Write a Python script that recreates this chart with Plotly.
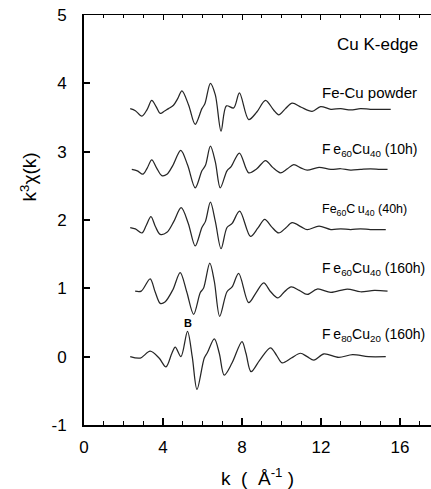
import plotly.graph_objects as go

# ---- data ----
k_powder = [2.34, 2.6, 2.93, 3.2, 3.43, 3.65, 3.86, 4.1, 4.28, 4.53, 4.75, 4.96, 5.3, 5.63, 5.97, 6.12, 6.4, 6.65, 6.94, 7.21, 7.58, 7.87, 8.34, 8.75, 9.19, 9.6, 9.86, 10.2, 10.54, 11.0, 11.55, 11.98, 12.5, 13.0, 13.5, 14.0, 14.5, 15.0, 15.53]
y_powder = [3.63, 3.60, 3.52, 3.62, 3.75, 3.66, 3.56, 3.60, 3.63, 3.68, 3.78, 3.89, 3.68, 3.40, 3.63, 3.70, 4.00, 3.83, 3.30, 3.67, 3.64, 3.86, 3.47, 3.58, 3.75, 3.61, 3.54, 3.63, 3.71, 3.65, 3.59, 3.66, 3.62, 3.63, 3.61, 3.63, 3.62, 3.62, 3.62]

k_10h = [2.42, 2.7, 2.98, 3.2, 3.43, 3.68, 3.94, 4.2, 4.5, 4.9, 5.25, 5.63, 5.97, 6.15, 6.40, 6.65, 6.9, 7.24, 7.45, 7.87, 8.34, 8.75, 9.19, 9.55, 9.95, 10.3, 10.62, 11.0, 11.3, 11.9, 12.5, 13.0, 13.5, 14.0, 14.5, 15.0, 15.37]
y_10h = [2.74, 2.72, 2.67, 2.76, 2.88, 2.76, 2.65, 2.67, 2.80, 3.02, 2.80, 2.47, 2.72, 2.80, 3.08, 2.85, 2.47, 2.72, 2.78, 2.98, 2.69, 2.75, 2.87, 2.77, 2.69, 2.75, 2.81, 2.76, 2.73, 2.77, 2.74, 2.75, 2.73, 2.74, 2.75, 2.74, 2.74]

k_40h = [2.34, 2.6, 2.93, 3.15, 3.39, 3.62, 3.86, 4.2, 4.55, 4.92, 5.28, 5.63, 5.97, 6.15, 6.40, 6.65, 6.94, 7.24, 7.5, 7.88, 8.43, 8.8, 9.15, 9.5, 9.86, 10.2, 10.54, 11.0, 11.3, 11.9, 12.5, 13.0, 13.5, 14.0, 14.5, 15.0, 15.28]
y_40h = [1.89, 1.87, 1.81, 1.92, 2.05, 1.90, 1.79, 1.82, 1.98, 2.18, 1.95, 1.62, 1.89, 1.98, 2.26, 1.98, 1.58, 1.89, 1.95, 2.13, 1.76, 1.88, 2.01, 1.90, 1.81, 1.88, 1.96, 1.90, 1.86, 1.91, 1.86, 1.87, 1.86, 1.87, 1.86, 1.86, 1.86]

k_160h = [2.59, 2.9, 3.35, 3.6, 3.86, 4.1, 4.5, 4.87, 5.2, 5.55, 5.89, 6.05, 6.37, 6.6, 6.87, 7.24, 7.5, 7.83, 8.34, 8.7, 9.1, 9.45, 9.81, 10.15, 10.49, 10.9, 11.3, 11.81, 12.5, 13.33, 14.0, 14.7, 15.37]
y_160h = [0.96, 0.96, 1.14, 0.95, 0.78, 0.80, 0.98, 1.23, 0.95, 0.62, 0.94, 1.00, 1.37, 1.10, 0.59, 0.95, 1.02, 1.22, 0.79, 0.93, 1.08, 0.95, 0.86, 0.95, 1.02, 0.97, 0.91, 0.99, 0.94, 0.99, 0.95, 0.97, 0.96]

k_80_20 = [2.34, 2.85, 3.35, 3.8, 4.15, 4.45, 4.62, 4.91, 5.24, 5.48, 5.72, 6.09, 6.25, 6.6, 6.85, 7.1, 7.5, 8.0, 8.2, 8.46, 8.9, 9.44, 9.75, 10.03, 10.5, 10.96, 11.3, 11.64, 12.15, 12.9, 13.6, 14.4, 15.28]
y_80_20 = [0.0, -0.02, 0.08, -0.02, -0.15, 0.05, 0.14, 0.0, 0.37, 0.0, -0.48, -0.02, 0.06, 0.26, 0.05, -0.27, -0.09, 0.22, 0.05, -0.22, -0.05, 0.13, 0.02, -0.09, -0.02, 0.05, 0.0, -0.05, 0.04, -0.01, 0.03, 0.0, 0.0]

series = [(k_powder, y_powder), (k_10h, y_10h), (k_40h, y_40h), (k_160h, y_160h), (k_80_20, y_80_20)]

labels = ["Fe-Cu powder",
          "F\u2009e<sub>60</sub>Cu<sub>40</sub> (10h)",
          "Fe<sub>60</sub>C\u2009u<sub>40</sub> (40h)",
          "F\u2009e<sub>60</sub>Cu<sub>40</sub> (160h)",
          "F\u2009e<sub>80</sub>Cu<sub>20</sub> (160h)"]
label_y = [3.87, 3.03, 2.15, 1.28, 0.31]
label_size = [15, 14, 12.5, 14, 14]
label_k = 11.95

x_ticks = [0, 4, 8, 12, 16]
y_ticks = [-1, 0, 1, 2, 3, 4, 5]
y_ticktext = ["-1", "0", "1", "2", "3", "4", "5"]

FONT = "Arial, Liberation Sans, Helvetica, sans-serif"

fig = go.Figure()
for kk, yy in series:
    fig.add_trace(go.Scatter(x=kk, y=yy, mode="lines",
                             line=dict(color="#262626", width=1.25, shape="spline", smoothing=0.9),
                             showlegend=False, hoverinfo="skip"))
# dummy trace for top axis
fig.add_trace(go.Scatter(x=[0], y=[0], xaxis="x2", mode="markers",
                         marker=dict(opacity=0), showlegend=False, hoverinfo="skip"))

for txt, yv, sz in zip(labels, label_y, label_size):
    fig.add_annotation(x=label_k, y=yv, text=txt, showarrow=False, xanchor="left", yanchor="middle",
                       font=dict(family=FONT, size=sz, color="black"))

fig.add_annotation(x=14.87, y=4.57, text="Cu K-edge", showarrow=False,
                   font=dict(family=FONT, size=17, color="black"))
fig.add_annotation(x=5.25, y=0.49, text="<b>B</b>", showarrow=False,
                   font=dict(family=FONT, size=11, color="black"))
fig.add_annotation(xref="paper", yref="paper", x=-0.16, y=0.605, text="k<sup>3</sup>χ(k)",
                   textangle=-90, showarrow=False, xanchor="center", yanchor="middle",
                   font=dict(family=FONT, size=19, color="black"))
fig.add_annotation(xref="paper", yref="paper", x=0.5, y=-0.128, yanchor="middle",
                   text="k  (  Å<sup>-1</sup> )", showarrow=False,
                   font=dict(family=FONT, size=19, color="black"))

fig.update_layout(
    width=431, height=489,
    margin=dict(l=84, r=0, t=15, b=64),
    paper_bgcolor="white", plot_bgcolor="white",
    font=dict(family=FONT, color="black"),
    xaxis=dict(range=[0, 17.57], tickvals=x_ticks, ticks="inside", ticklen=7, tickwidth=1.5,
               tickcolor="black", showline=True, linewidth=2, linecolor="black",
               showgrid=False, zeroline=False, tickfont=dict(size=17), automargin=False,
               minor=dict(dtick=1, ticks="inside", ticklen=4, tickwidth=1, tickcolor="black"),
               ticklabelstandoff=6),
    xaxis2=dict(range=[0, 17.57], overlaying="x", side="top", tickvals=x_ticks, ticks="inside",
                ticklen=5, tickwidth=1, tickcolor="black", showline=True, linewidth=1,
                linecolor="black", showgrid=False, zeroline=False, showticklabels=False,
                automargin=False,
                minor=dict(dtick=1, ticks="inside", ticklen=3, tickwidth=1, tickcolor="black")),
    yaxis=dict(range=[-1, 5], tickvals=y_ticks, ticktext=y_ticktext, ticks="inside", ticklen=6,
               tickwidth=1.5, tickcolor="black", showline=True, linewidth=2, linecolor="black",
               automargin=False, showgrid=False, zeroline=False, tickfont=dict(size=17),
               ticklabelstandoff=12),
)

fig.write_html("out.html", config={"displayModeBar": False},
               post_script="document.body.style.margin='0px';document.body.style.overflow='hidden';")
